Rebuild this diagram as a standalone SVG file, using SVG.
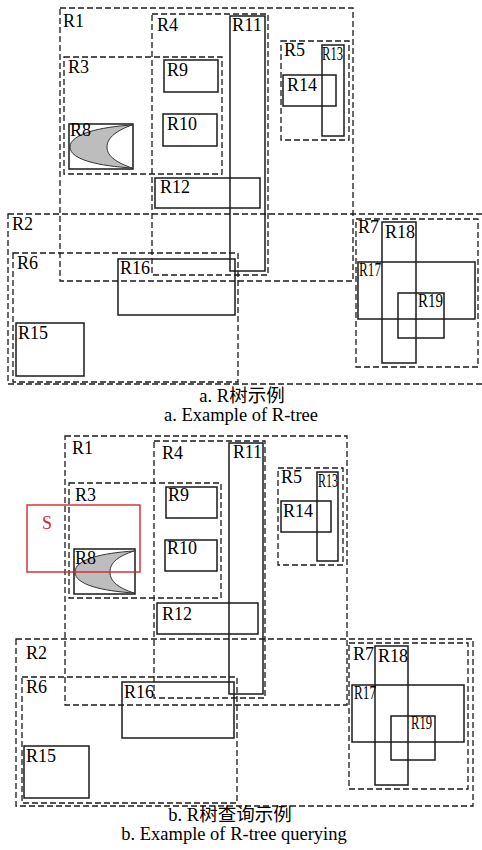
<svg xmlns="http://www.w3.org/2000/svg" width="482" height="850" viewBox="0 0 482 850">
<style>
.d{fill:none;stroke:#1a1a1a;stroke-width:1.3;stroke-dasharray:6 3}
.s{fill:none;stroke:#1a1a1a;stroke-width:1.5}
.sh{fill:#bdbdbd;stroke:#333;stroke-width:1}
.t{font-family:"Liberation Serif","Noto Sans CJK SC",serif;font-size:18px;fill:#000}
.c{font-family:"Liberation Serif","Noto Sans CJK SC",serif;font-size:18.5px;fill:#000;text-anchor:middle}
.q{fill:none;stroke:#d9262b;stroke-width:1.4}
</style>
<rect width="482" height="850" fill="#fff"/>
<g id="panel-a">
<g id="a-R1"><rect class="d" x="60" y="8" width="293" height="273"/><text class="t" x="63" y="27">R1</text></g>
<g id="a-R4"><rect class="d" x="152" y="14" width="116" height="261"/><text class="t" x="157" y="31">R4</text></g>
<g id="a-R11"><rect class="s" x="230" y="16" width="35" height="255"/><text class="t" x="232" y="31" textLength="30" lengthAdjust="spacingAndGlyphs">R11</text></g>
<g id="a-R3"><rect class="d" x="64" y="57" width="158" height="117"/><text class="t" x="68" y="73">R3</text></g>
<g id="a-R9"><rect class="s" x="164" y="60" width="54" height="32"/><text class="t" x="167" y="76">R9</text></g>
<g id="a-R10"><rect class="s" x="163" y="114" width="54" height="32"/><text class="t" x="167" y="130">R10</text></g>
<g id="a-R8"><rect class="s" x="69" y="124" width="64" height="45"/><path class="sh" d="M132,125 C100,127 70,134 70,147 C70,160 100,166 132,168 C118,163 107,157 107,147 C107,137 118,130 132,125 Z"/><text class="t" x="70" y="136">R8</text></g>
<g id="a-R12"><rect class="s" x="155" y="178" width="105" height="30"/><text class="t" x="160" y="193">R12</text></g>
<g id="a-R5"><rect class="d" x="281" y="41" width="68" height="99"/><text class="t" x="284" y="56">R5</text></g>
<g id="a-R13"><rect class="s" x="322" y="45" width="22" height="91"/><text class="t" x="322" y="60" textLength="21" lengthAdjust="spacingAndGlyphs">R13</text></g>
<g id="a-R14"><rect class="s" x="283" y="75" width="53" height="31"/><text class="t" x="287" y="91">R14</text></g>
<g id="a-R2"><rect class="d" x="8" y="214" width="476" height="170"/><text class="t" x="12" y="230">R2</text></g>
<g id="a-R6"><rect class="d" x="13" y="253" width="225" height="129"/><text class="t" x="17" y="269">R6</text></g>
<g id="a-R16"><rect class="s" x="118" y="259" width="117" height="56"/><text class="t" x="120" y="274">R16</text></g>
<g id="a-R15"><rect class="s" x="16" y="323" width="68" height="53"/><text class="t" x="18" y="339">R15</text></g>
<g id="a-R7"><rect class="d" x="356" y="219" width="122" height="148"/><text class="t" x="358" y="233">R7</text></g>
<g id="a-R18"><rect class="s" x="382" y="222" width="34" height="141"/><text class="t" x="385" y="238">R18</text></g>
<g id="a-R17"><rect class="s" x="358" y="262" width="117" height="57"/><text class="t" x="359" y="276" textLength="22" lengthAdjust="spacingAndGlyphs">R17</text></g>
<g id="a-R19"><rect class="s" x="398" y="293" width="46" height="45"/><text class="t" x="418" y="307" textLength="25" lengthAdjust="spacingAndGlyphs">R19</text></g>
<text class="c" x="242" y="402">a. R树示例</text>
<text class="c" x="241" y="421">a. Example of R-tree</text>
</g>
<g id="panel-b">
<g id="b-R1"><rect class="d" x="65" y="436" width="282" height="269"/><text class="t" x="72" y="454">R1</text></g>
<g id="b-R4"><rect class="d" x="154" y="441" width="111" height="257"/><text class="t" x="162" y="459">R4</text></g>
<g id="b-R11"><rect class="s" x="229" y="443" width="34" height="251"/><text class="t" x="233" y="458" textLength="29" lengthAdjust="spacingAndGlyphs">R11</text></g>
<g id="b-R3"><rect class="d" x="69" y="483" width="152" height="115"/><text class="t" x="75" y="501">R3</text></g>
<g id="b-R9"><rect class="s" x="166" y="487" width="51" height="31"/><text class="t" x="168" y="501">R9</text></g>
<g id="b-R10"><rect class="s" x="165" y="540" width="52" height="31"/><text class="t" x="167" y="554">R10</text></g>
<g id="b-R8"><rect class="s" x="74" y="549" width="61" height="45"/><path class="sh" d="M134,551 C103,553 75,559 75,572 C75,585 103,591 134,593 C119,588 110,582 110,572 C110,562 119,556 134,551 Z"/><text class="t" x="75" y="564">R8</text></g>
<g id="b-S"><rect class="q" x="27" y="505" width="113" height="67"/><text class="t" x="42" y="529" style="fill:#d9262b">S</text></g>
<g id="b-R12"><rect class="s" x="157" y="603" width="101" height="31"/><text class="t" x="162" y="620">R12</text></g>
<g id="b-R5"><rect class="d" x="278" y="468" width="65" height="97"/><text class="t" x="281" y="483">R5</text></g>
<g id="b-R13"><rect class="s" x="317" y="472" width="21" height="89"/><text class="t" x="318" y="487" textLength="20" lengthAdjust="spacingAndGlyphs">R13</text></g>
<g id="b-R14"><rect class="s" x="281" y="501" width="50" height="31"/><text class="t" x="283" y="517">R14</text></g>
<g id="b-R2"><rect class="d" x="16" y="639" width="457" height="167"/><text class="t" x="26" y="659">R2</text></g>
<g id="b-R6"><rect class="d" x="22" y="677" width="215" height="126"/><text class="t" x="26" y="693">R6</text></g>
<g id="b-R16"><rect class="s" x="122" y="682" width="112" height="56"/><text class="t" x="124" y="698">R16</text></g>
<g id="b-R15"><rect class="s" x="24" y="746" width="65" height="52"/><text class="t" x="26" y="762">R15</text></g>
<g id="b-R7"><rect class="d" x="349" y="643" width="119" height="146"/><text class="t" x="353" y="660">R7</text></g>
<g id="b-R18"><rect class="s" x="375" y="646" width="33" height="139"/><text class="t" x="378" y="662">R18</text></g>
<g id="b-R17"><rect class="s" x="352" y="685" width="112" height="57"/><text class="t" x="354" y="699" textLength="22" lengthAdjust="spacingAndGlyphs">R17</text></g>
<g id="b-R19"><rect class="s" x="391" y="716" width="44" height="44"/><text class="t" x="411" y="729" textLength="21" lengthAdjust="spacingAndGlyphs">R19</text></g>
<text class="c" x="230" y="821">b. R树查询示例</text>
<text class="c" x="234" y="840">b. Example of R-tree querying</text>
</g>
</svg>
